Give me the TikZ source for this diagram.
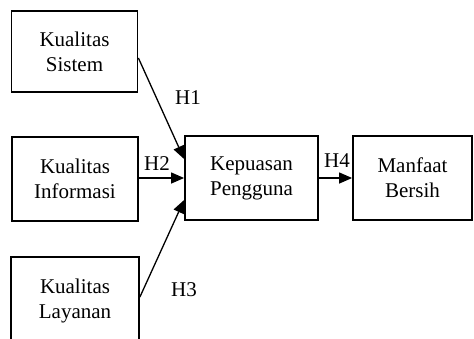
\documentclass[tikz,border=0pt]{standalone}
\usepackage{fontspec}
\setmainfont{Liberation Serif}
\usetikzlibrary{arrows.meta}
\begin{document}
\begin{tikzpicture}[x=1pt,y=-1pt,
  varbox/.style={draw,line width=1.8pt,rectangle,inner sep=0pt,align=center,
    font=\fontsize{21}{25}\selectfont},
  conn/.style={line width=1.3pt,-{Triangle[length=13pt,width=11pt]}},
  hlabel/.style={inner sep=0pt,font=\fontsize{21}{25}\selectfont}]
\useasboundingbox (0,0) rectangle (474,338);
\node[varbox,minimum width=126pt,minimum height=81pt] (sis) at (74.5,51.5) {Kualitas\\Sistem};
\node[varbox,minimum width=126pt,minimum height=84pt] (inf) at (75,179) {Kualitas\\Informasi};
\node[varbox,minimum width=128pt,minimum height=88pt] (lay) at (75,301) {Kualitas\\Layanan};
\node[varbox,minimum width=133pt,minimum height=84pt] (kep) at (251.5,178) {Kepuasan\\Pengguna};
\node[varbox,minimum width=119pt,minimum height=84pt] (man) at (412.5,178) {Manfaat\\Bersih};
\draw[conn] ([yshift=-6.5pt]sis.east) -- ([yshift=19pt]kep.west);
\draw[conn] (inf.east |- kep.west) -- (kep.west);
\draw[conn] ([yshift=4pt]lay.east) -- ([yshift=-22pt]kep.west);
\draw[conn] (kep.east) -- (man.west);
\node[hlabel] (h1) at (188,98) {H1};
\node[hlabel] (h2) at (157,164) {H2};
\node[hlabel] (h3) at (184,290) {H3};
\node[hlabel] (h4) at (337,161) {H4};
\end{tikzpicture}
\end{document}
